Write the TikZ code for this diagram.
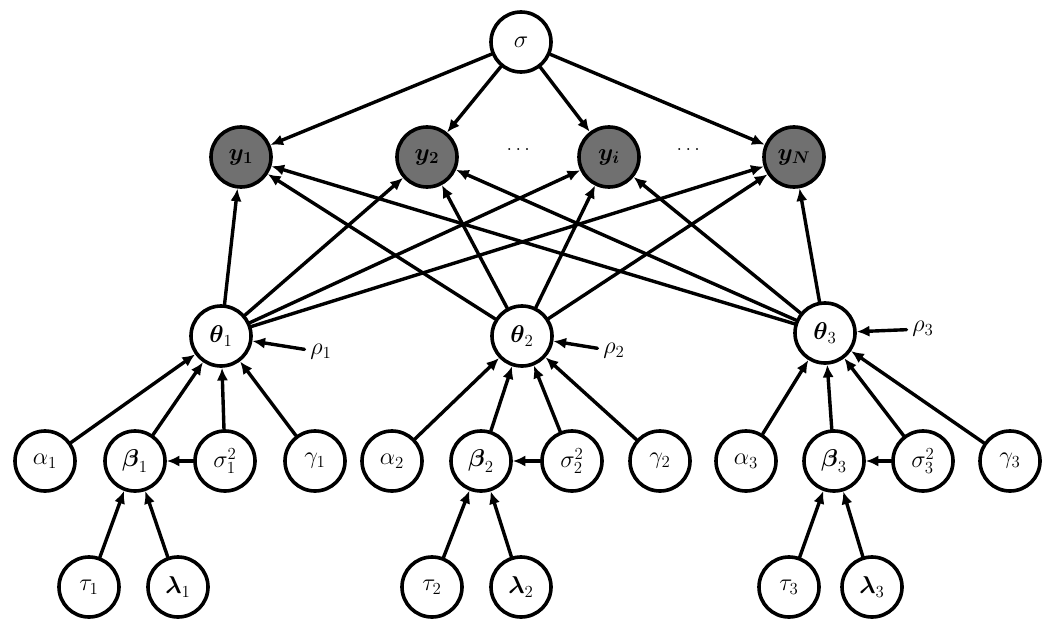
\documentclass[tikz,border=0pt]{standalone}
\usepackage{amsmath,amssymb}
\usetikzlibrary{arrows.meta}
\definecolor{obsgray}{RGB}{112,112,112}
\tikzset{
  var/.style={circle,draw,line width=0.09cm,minimum size=1.5cm,inner sep=0pt,font=\LARGE},
  obs/.style={var,fill=obsgray},
  lbl/.style={inner sep=4pt,font=\LARGE},
  edge/.style={line width=0.085cm,-{Latex[length=9pt,width=8pt]}},
}
\begin{document}
\begin{tikzpicture}[x=0.025cm,y=-0.025cm,line cap=round,line join=round]
  \useasboundingbox (0,0) rectangle (1056,624);
  % top and observed nodes
  \node[var] (sigma) at (521,42) {$\sigma$};
  \node[obs] (y1) at (241,157) {$\boldsymbol{y_1}$};
  \node[obs] (y2) at (427,157) {$\boldsymbol{y_2}$};
  \node[obs] (yi) at (609,157) {$\boldsymbol{y_i}$};
  \node[obs] (yN) at (794,157) {$\boldsymbol{y_N}$};
  \node[font=\Large] (dots1) at (520,150) {$\dots$};
  \node[font=\Large] (dots2) at (690,150) {$\dots$};
  % parameters
  \node[var] (theta1) at (221,336) {$\boldsymbol{\theta}_1$};
  \node[var] (theta2) at (522,336) {$\boldsymbol{\theta}_2$};
  \node[var] (theta3) at (825,333) {$\boldsymbol{\theta}_3$};
  \node[lbl] (rho1) at (321,352) {$\rho_1$};
  \node[lbl] (rho2) at (614,351) {$\rho_2$};
  \node[lbl] (rho3) at (923,329) {$\rho_3$};
  % hyperparameters
  \node[var] (alpha1) at (45,461) {$\alpha_1$};
  \node[var] (beta1) at (135,461) {$\boldsymbol{\beta}_1$};
  \node[var] (sigsq1) at (225,461) {$\sigma_1^2$};
  \node[var] (gamma1) at (315,461) {$\gamma_1$};
  \node[var] (alpha2) at (392,461) {$\alpha_2$};
  \node[var] (beta2) at (481,461) {$\boldsymbol{\beta}_2$};
  \node[var] (sigsq2) at (572,461) {$\sigma_2^2$};
  \node[var] (gamma2) at (660,461) {$\gamma_2$};
  \node[var] (alpha3) at (746,461) {$\alpha_3$};
  \node[var] (beta3) at (834,461) {$\boldsymbol{\beta}_3$};
  \node[var] (sigsq3) at (923,461) {$\sigma_3^2$};
  \node[var] (gamma3) at (1010,461) {$\gamma_3$};
  \node[var] (tau1) at (89,587) {$\tau_1$};
  \node[var] (lambda1) at (178,587) {$\boldsymbol{\lambda}_1$};
  \node[var] (tau2) at (432,587) {$\tau_2$};
  \node[var] (lambda2) at (521,587) {$\boldsymbol{\lambda}_2$};
  \node[var] (tau3) at (789,587) {$\tau_3$};
  \node[var] (lambda3) at (872,587) {$\boldsymbol{\lambda}_3$};
  % connectors
  \foreach \k in {y1,y2,yi,yN}
    \draw[edge] (sigma) -- (\k);
  \foreach \j in {1,2,3} {
    \foreach \k in {y1,y2,yi,yN}
      \draw[edge] (theta\j) -- (\k);
    \draw[edge] (rho\j) -- (theta\j);
    \draw[edge] (alpha\j) -- (theta\j);
    \draw[edge] (beta\j) -- (theta\j);
    \draw[edge] (sigsq\j) -- (theta\j);
    \draw[edge] (gamma\j) -- (theta\j);
    \draw[edge] (sigsq\j) -- (beta\j);
    \draw[edge] (tau\j) -- (beta\j);
    \draw[edge] (lambda\j) -- (beta\j);
  }
\end{tikzpicture}
\end{document}
